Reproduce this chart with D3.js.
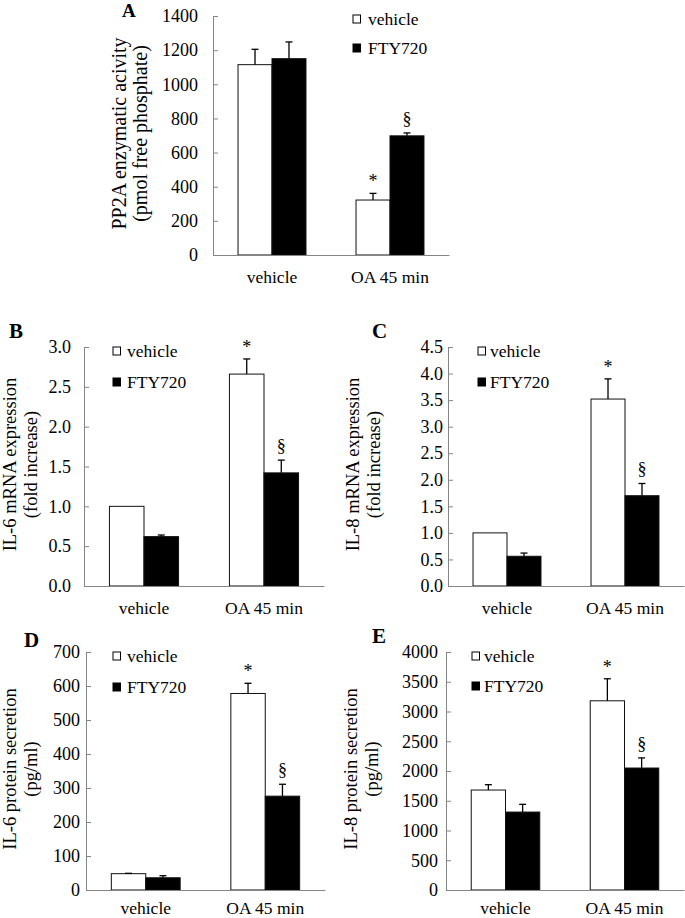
<!DOCTYPE html>
<html>
<head>
<meta charset="utf-8">
<script src="https://cdn.jsdelivr.net/npm/d3@7"></script>
<style>
  html, body { margin: 0; padding: 0; background: #fff; }
  svg { display: block; }
  text { font-family: "Liberation Serif", "Times New Roman", serif; fill: #000; }
</style>
</head>
<body>
<svg id="chart" width="685" height="918"></svg>
<script>
// ---------- data ----------
const categories = ["vehicle", "OA 45 min"];
const seriesNames = ["vehicle", "FTY720"];

// Panel A: PP2A enzymatic activity
const aVehicle = [1115, 322];
const aVehicleErr = [90, 39];
const aFty = [1150, 698];
const aFtyErr = [98, 17];
const aTicks = [0, 200, 400, 600, 800, 1000, 1200, 1400];

// Panel B: IL-6 mRNA
const bVehicle = [1.0, 2.66];
const bVehicleErr = [0, 0.19];
const bFty = [0.62, 1.42];
const bFtyErr = [0.02, 0.16];
const bTicks = [0, 0.5, 1.0, 1.5, 2.0, 2.5, 3.0];

// Panel C: IL-8 mRNA
const cVehicle = [1.0, 3.52];
const cVehicleErr = [0, 0.38];
const cFty = [0.56, 1.70];
const cFtyErr = [0.06, 0.23];
const cTicks = [0, 0.5, 1.0, 1.5, 2.0, 2.5, 3.0, 3.5, 4.0, 4.5];

// Panel D: IL-6 protein
const dVehicle = [48, 578];
const dVehicleErr = [1, 30];
const dFty = [36, 276];
const dFtyErr = [6, 35];
const dTicks = [0, 100, 200, 300, 400, 500, 600, 700];

// Panel E: IL-8 protein
const eVehicle = [1680, 3180];
const eVehicleErr = [90, 370];
const eFty = [1310, 2050];
const eFtyErr = [130, 170];
const eTicks = [0, 500, 1000, 1500, 2000, 2500, 3000, 3500, 4000];

// significance marks (over OA 45 min bars)
const marks = ["*", "§"];

// ---------- layout ----------
const panels = [
  { label: "A", vals: [aVehicle, aFty], errs: [aVehicleErr, aFtyErr], ticks: aTicks, fmt: d3.format("d"),
    x0: 213, x1: 449, yTop: 16, y0: 255, tickPad: 15, xPad: 15.5,
    titles: ["PP2A enzymatic acivity", "(pmol free phosphate)"], titleX: [126, 147], titleSize: 20,
    labelX: 122, labelY: 17, labelSize: 19,
    legX: 353, legTextX: 368, legY: [25, 54] },
  { label: "B", vals: [bVehicle, bFty], errs: [bVehicleErr, bFtyErr], ticks: bTicks, fmt: d3.format(".1f"),
    x0: 84, x1: 324, yTop: 347, y0: 586, tickPad: 13, xPad: 15.5,
    titles: ["IL-6 mRNA expression", "(fold increase)"], titleX: [16, 37], titleSize: 18.5,
    labelX: 9, labelY: 338, labelSize: 21,
    legX: 113, legTextX: 127, legY: [357, 388] },
  { label: "C", vals: [cVehicle, cFty], errs: [cVehicleErr, cFtyErr], ticks: cTicks, fmt: d3.format(".1f"),
    x0: 448, x1: 684, yTop: 347, y0: 586, tickPad: 5, xPad: 15.5,
    titles: ["IL-8 mRNA expression", "(fold increase)"], titleX: [359, 380], titleSize: 18.5,
    labelX: 372, labelY: 338, labelSize: 21,
    legX: 478, legTextX: 490, legY: [357, 388] },
  { label: "D", vals: [dVehicle, dFty], errs: [dVehicleErr, dFtyErr], ticks: dTicks, fmt: d3.format("d"),
    x0: 86, x1: 325, yTop: 652, y0: 890, tickPad: 6, xPad: 11.5,
    titles: ["IL-6 protein secretion", "(pg/ml)"], titleX: [16, 37], titleSize: 18.5,
    labelX: 24, labelY: 647, labelSize: 21,
    legX: 113, legTextX: 127, legY: [662, 693] },
  { label: "E", vals: [eVehicle, eFty], errs: [eVehicleErr, eFtyErr], ticks: eTicks, fmt: d3.format("d"),
    x0: 446, x1: 684, yTop: 652, y0: 890, tickPad: 8, xPad: 11.5,
    titles: ["IL-8 protein secretion", "(pg/ml)"], titleX: [357, 378], titleSize: 18.5,
    labelX: 372, labelY: 643, labelSize: 21,
    legX: 472, legTextX: 484, legY: [662, 692] }
];

const svg = d3.select("#chart");
const axisColor = "#858585";
const fills = ["#ffffff", "#000000"];
const tickFont = 18;
const serif = '"Liberation Serif", "Times New Roman", serif';

panels.forEach(p => {
  const g = svg.append("g");
  const x = d3.scaleBand().domain(categories).range([p.x0, p.x1]).paddingInner(0).paddingOuter(0);
  const bw = x.bandwidth() * 0.288;
  const xs = d3.scaleBand().domain(seriesNames).range([-bw, bw]);
  const y = d3.scaleLinear().domain([0, p.ticks[p.ticks.length - 1]]).range([p.y0, p.yTop]);

  // y axis (ticks point inward)
  const ya = g.append("g")
    .attr("transform", `translate(${p.x0},0)`)
    .call(d3.axisLeft(y).tickValues(p.ticks).tickFormat(p.fmt).tickSize(-5).tickSizeOuter(0).tickPadding(p.tickPad));
  ya.attr("font-family", serif);
  ya.select(".domain").attr("stroke", axisColor);
  ya.selectAll(".tick line").attr("stroke", axisColor);
  ya.selectAll(".tick text").attr("font-size", tickFont).attr("fill", "#000");

  // bars
  seriesNames.forEach((s, si) => {
    g.selectAll(null).data(categories).enter().append("rect")
      .attr("x", c => x(c) + x.bandwidth() / 2 + xs(s))
      .attr("y", (c, i) => y(p.vals[si][i]))
      .attr("width", xs.bandwidth())
      .attr("height", (c, i) => y(0) - y(p.vals[si][i]))
      .attr("fill", fills[si])
      .attr("stroke", "#111")
      .attr("stroke-width", 1);
    // error bars (upper only)
    categories.forEach((c, i) => {
      const v = p.vals[si][i], e = p.errs[si][i];
      if (e <= 0) return;
      const cx = x(c) + x.bandwidth() / 2 + xs(s) + xs.bandwidth() / 2;
      g.append("line").attr("x1", cx).attr("x2", cx).attr("y1", y(v)).attr("y2", y(v + e))
        .attr("stroke", "#000").attr("stroke-width", 1.3);
      g.append("line").attr("x1", cx - 3.5).attr("x2", cx + 3.5).attr("y1", y(v + e)).attr("y2", y(v + e))
        .attr("stroke", "#000").attr("stroke-width", 1.3);
    });
  });

  // significance marks on OA bars
  seriesNames.forEach((s, si) => {
    const c = categories[1];
    const top = y(p.vals[si][1] + p.errs[si][1]);
    const cx = x(c) + x.bandwidth() / 2 + xs(s) + xs.bandwidth() / 2;
    g.append("text").attr("x", cx).attr("y", si === 0 ? top - 6 : top - 8)
      .attr("text-anchor", "middle").attr("font-size", 18).text(marks[si]);
  });

  // x axis
  const xa = g.append("g")
    .attr("transform", `translate(0,${p.y0})`)
    .call(d3.axisBottom(x).tickSize(0).tickSizeOuter(0).tickPadding(p.xPad));
  xa.attr("font-family", serif);
  xa.select(".domain").attr("stroke", axisColor);
  xa.selectAll(".tick text").attr("font-size", 17.5).attr("fill", "#000");

  // y title
  const cyTitle = (p.y0 + p.yTop) / 2 - 2;
  p.titles.forEach((t, ti) => {
    g.append("text")
      .attr("transform", `translate(${p.titleX[ti]},${cyTitle}) rotate(-90)`)
      .attr("text-anchor", "middle").attr("font-size", p.titleSize).text(t);
  });

  // panel label
  g.append("text").attr("x", p.labelX).attr("y", p.labelY)
    .attr("font-size", p.labelSize).attr("font-weight", "bold").text(p.label);

  // legend
  seriesNames.forEach((s, si) => {
    g.append("rect").attr("x", p.legX).attr("y", p.legY[si] - 10).attr("width", 7.5).attr("height", 8)
      .attr("fill", fills[si]).attr("stroke", "#000").attr("stroke-width", 1);
    g.append("text").attr("x", p.legTextX).attr("y", p.legY[si]).attr("font-size", 17.5).text(s);
  });
});
</script>
</body>
</html>
